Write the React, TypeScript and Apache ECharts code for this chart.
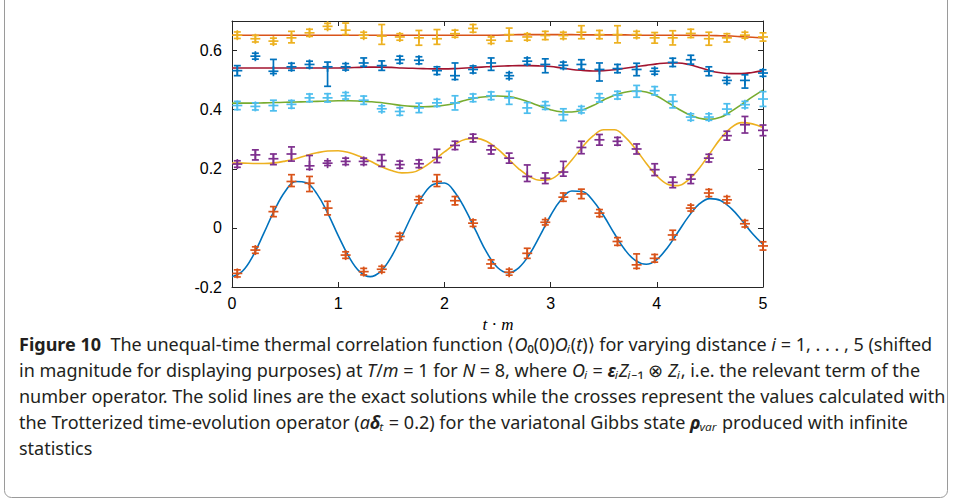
import React, { useEffect, useRef } from "react";
import * as echarts from "echarts";

// time grid of the crosses (t·m)
const T_PTS = [0.05, 0.22, 0.39, 0.56, 0.73, 0.9, 1.07, 1.24, 1.41, 1.58, 1.76, 1.93, 2.1, 2.27, 2.44, 2.61, 2.78, 2.95, 3.12, 3.29, 3.46, 3.63, 3.81, 3.98, 4.15, 4.32, 4.49, 4.66, 4.83, 5.0];
// time grid of the exact curves
const T_CURVE = [0, 0.1, 0.2, 0.3, 0.4, 0.5, 0.6, 0.7, 0.8, 0.9, 1.0, 1.1, 1.2, 1.3, 1.4, 1.5, 1.6, 1.7, 1.8, 1.9, 2.0, 2.1, 2.2, 2.3, 2.4, 2.5, 2.6, 2.7, 2.8, 2.9, 3.0, 3.1, 3.2, 3.3, 3.4, 3.5, 3.6, 3.7, 3.8, 3.9, 4.0, 4.1, 4.2, 4.3, 4.4, 4.5, 4.6, 4.7, 4.8, 4.9, 5.0];

// exact solutions
const CURVE_I1 = [-0.165, -0.146, -0.093, -0.018, 0.06, 0.123, 0.157, 0.153, 0.115, 0.051, -0.026, -0.097, -0.147, -0.165, -0.147, -0.098, -0.028, 0.047, 0.111, 0.148, 0.152, 0.12, 0.06, -0.013, -0.084, -0.134, -0.152, -0.135, -0.09, -0.026, 0.042, 0.096, 0.125, 0.123, 0.092, 0.041, -0.019, -0.074, -0.111, -0.123, -0.107, -0.067, -0.014, 0.039, 0.081, 0.099, 0.093, 0.066, 0.026, -0.019, -0.056];
const CURVE_I2 = [0.219, 0.219, 0.218, 0.218, 0.22, 0.226, 0.234, 0.245, 0.254, 0.26, 0.261, 0.255, 0.242, 0.226, 0.208, 0.194, 0.186, 0.188, 0.204, 0.229, 0.257, 0.283, 0.3, 0.303, 0.292, 0.267, 0.234, 0.2, 0.174, 0.161, 0.165, 0.19, 0.23, 0.274, 0.311, 0.332, 0.332, 0.308, 0.267, 0.219, 0.176, 0.148, 0.143, 0.163, 0.202, 0.252, 0.302, 0.339, 0.356, 0.352, 0.34];
const CURVE_I3 = [0.422, 0.422, 0.422, 0.423, 0.424, 0.425, 0.426, 0.427, 0.428, 0.429, 0.43, 0.43, 0.429, 0.427, 0.424, 0.419, 0.414, 0.411, 0.41, 0.411, 0.415, 0.422, 0.432, 0.44, 0.444, 0.446, 0.444, 0.437, 0.425, 0.412, 0.4, 0.393, 0.392, 0.399, 0.414, 0.433, 0.449, 0.459, 0.463, 0.46, 0.446, 0.425, 0.403, 0.384, 0.371, 0.367, 0.374, 0.394, 0.418, 0.443, 0.466];
const CURVE_I4 = [0.541, 0.541, 0.541, 0.541, 0.541, 0.541, 0.541, 0.541, 0.541, 0.541, 0.541, 0.542, 0.543, 0.544, 0.544, 0.543, 0.541, 0.54, 0.539, 0.538, 0.538, 0.539, 0.541, 0.543, 0.545, 0.547, 0.548, 0.549, 0.549, 0.548, 0.546, 0.541, 0.536, 0.533, 0.531, 0.532, 0.535, 0.54, 0.545, 0.55, 0.555, 0.558, 0.558, 0.553, 0.543, 0.532, 0.525, 0.522, 0.522, 0.526, 0.532];
const CURVE_I5 = [0.652, 0.652, 0.652, 0.652, 0.652, 0.652, 0.652, 0.652, 0.652, 0.652, 0.652, 0.652, 0.652, 0.652, 0.652, 0.652, 0.652, 0.652, 0.652, 0.652, 0.652, 0.652, 0.652, 0.652, 0.652, 0.652, 0.653, 0.654, 0.654, 0.654, 0.654, 0.654, 0.654, 0.653, 0.653, 0.653, 0.653, 0.653, 0.652, 0.652, 0.652, 0.652, 0.652, 0.652, 0.651, 0.651, 0.65, 0.649, 0.647, 0.645, 0.643];

// Trotterized values (crosses) with upper / lower error
const PTS_I1 = [-0.154, -0.075, 0.055, 0.157, 0.151, 0.067, -0.092, -0.148, -0.14, -0.029, 0.095, 0.157, 0.092, 0.016, -0.122, -0.15, -0.086, 0.019, 0.104, 0.115, 0.05, -0.046, -0.125, -0.103, -0.024, 0.067, 0.118, 0.095, 0.014, -0.061];
const UP_I1 = [0.012, 0.011, 0.017, 0.023, 0.023, 0.023, 0.011, 0.011, 0.01, 0.011, 0.011, 0.023, 0.014, 0.011, 0.014, 0.01, 0.017, 0.009, 0.014, 0.016, 0.012, 0.013, 0.037, 0.013, 0.016, 0.01, 0.012, 0.011, 0.011, 0.014];
const DN_I1 = [0.012, 0.011, 0.017, 0.017, 0.028, 0.023, 0.011, 0.011, 0.01, 0.011, 0.011, 0.017, 0.014, 0.011, 0.014, 0.01, 0.017, 0.009, 0.014, 0.016, 0.012, 0.013, 0.012, 0.013, 0.016, 0.01, 0.012, 0.011, 0.011, 0.014];

const PTS_I2 = [0.216, 0.247, 0.234, 0.25, 0.21, 0.219, 0.225, 0.225, 0.228, 0.214, 0.217, 0.238, 0.279, 0.304, 0.264, 0.236, 0.174, 0.168, 0.189, 0.272, 0.298, 0.293, 0.267, 0.197, 0.154, 0.165, 0.236, 0.312, 0.349, 0.33];
const UP_I2 = [0.011, 0.017, 0.016, 0.024, 0.035, 0.008, 0.011, 0.011, 0.02, 0.012, 0.013, 0.028, 0.014, 0.013, 0.014, 0.017, 0.039, 0.018, 0.036, 0.021, 0.018, 0.013, 0.017, 0.02, 0.018, 0.015, 0.013, 0.015, 0.028, 0.018];
const DN_I2 = [0.011, 0.017, 0.02, 0.024, 0.012, 0.008, 0.011, 0.011, 0.02, 0.012, 0.013, 0.017, 0.014, 0.013, 0.014, 0.017, 0.017, 0.018, 0.014, 0.021, 0.018, 0.013, 0.017, 0.02, 0.018, 0.015, 0.013, 0.015, 0.028, 0.018];

const PTS_I3 = [0.414, 0.411, 0.414, 0.418, 0.44, 0.44, 0.447, 0.432, 0.403, 0.394, 0.406, 0.423, 0.423, 0.44, 0.447, 0.44, 0.406, 0.414, 0.383, 0.4, 0.44, 0.449, 0.462, 0.464, 0.428, 0.375, 0.375, 0.402, 0.417, 0.436];
const UP_I3 = [0.014, 0.012, 0.018, 0.013, 0.013, 0.014, 0.011, 0.014, 0.01, 0.013, 0.016, 0.012, 0.024, 0.013, 0.013, 0.022, 0.018, 0.013, 0.02, 0.011, 0.014, 0.013, 0.02, 0.014, 0.022, 0.011, 0.011, 0.018, 0.011, 0.025];
const DN_I3 = [0.014, 0.012, 0.018, 0.013, 0.013, 0.014, 0.011, 0.014, 0.01, 0.013, 0.016, 0.012, 0.024, 0.013, 0.013, 0.022, 0.018, 0.013, 0.02, 0.011, 0.014, 0.013, 0.02, 0.014, 0.022, 0.011, 0.011, 0.018, 0.011, 0.025];

const PTS_I4 = [0.532, 0.581, 0.53, 0.545, 0.553, 0.545, 0.545, 0.558, 0.549, 0.569, 0.567, 0.532, 0.515, 0.536, 0.558, 0.515, 0.564, 0.553, 0.55, 0.553, 0.536, 0.539, 0.536, 0.53, 0.56, 0.569, 0.53, 0.499, 0.499, 0.524];
const UP_I4 = [0.017, 0.01, 0.04, 0.012, 0.011, 0.016, 0.011, 0.017, 0.016, 0.012, 0.012, 0.013, 0.043, 0.012, 0.017, 0.01, 0.011, 0.019, 0.011, 0.016, 0.022, 0.014, 0.021, 0.01, 0.014, 0.015, 0.015, 0.01, 0.019, 0.011];
const DN_I4 = [0.017, 0.01, 0.008, 0.012, 0.011, 0.066, 0.011, 0.011, 0.016, 0.012, 0.012, 0.013, 0.013, 0.012, 0.025, 0.01, 0.011, 0.028, 0.011, 0.016, 0.039, 0.014, 0.021, 0.01, 0.014, 0.015, 0.015, 0.01, 0.026, 0.011];

const PTS_I5 = [0.652, 0.64, 0.632, 0.643, 0.66, 0.682, 0.669, 0.652, 0.649, 0.646, 0.643, 0.64, 0.657, 0.675, 0.635, 0.654, 0.646, 0.651, 0.651, 0.662, 0.654, 0.654, 0.654, 0.643, 0.643, 0.658, 0.64, 0.643, 0.652, 0.646];
const UP_I5 = [0.011, 0.011, 0.01, 0.022, 0.012, 0.01, 0.024, 0.01, 0.039, 0.011, 0.025, 0.031, 0.012, 0.013, 0.011, 0.022, 0.011, 0.014, 0.011, 0.022, 0.014, 0.03, 0.011, 0.018, 0.024, 0.014, 0.022, 0.014, 0.01, 0.014];
const DN_I5 = [0.011, 0.011, 0.01, 0.017, 0.012, 0.01, 0.015, 0.01, 0.028, 0.011, 0.025, 0.019, 0.012, 0.013, 0.011, 0.022, 0.011, 0.014, 0.011, 0.022, 0.014, 0.028, 0.011, 0.018, 0.024, 0.014, 0.022, 0.014, 0.01, 0.014];

const X_TICKS = [0, 1, 2, 3, 4, 5];
const Y_TICKS = [-0.2, 0, 0.2, 0.4, 0.6];

const CAPTION = [
  "{b|Figure 10}  The unequal-time thermal correlation function ⟨{i|O}₀(0){i|O}{i|ᵢ}({i|t})⟩ for varying distance {i|i} = 1, . . . , 5 (shifted",
  "in magnitude for displaying purposes) at {i|T}/{i|m} = 1 for {i|N} = 8, where {i|O}{i|ᵢ} = {bi|ε}{i|ᵢZᵢ}₋₁ ⊗ {i|Zᵢ}, i.e. the relevant term of the",
  "number operator. The solid lines are the exact solutions while the crosses represent the values calculated with",
  "the Trotterized time-evolution operator ({i|a}{bi|δ}{i|ₜ} = 0.2) for the variatonal Gibbs state {bi|ρ}{i|ᵥₐᵣ} produced with infinite",
  "statistics",
];

const CURVES = [
  { data: CURVE_I1, color: "#0072BD" },
  { data: CURVE_I2, color: "#EDB120" },
  { data: CURVE_I3, color: "#77AC30" },
  { data: CURVE_I4, color: "#A2142F" },
  { data: CURVE_I5, color: "#D95319" },
];
const POINTS = [
  { v: PTS_I1, up: UP_I1, dn: DN_I1, color: "#D95319" },
  { v: PTS_I2, up: UP_I2, dn: DN_I2, color: "#7E2F8E" },
  { v: PTS_I3, up: UP_I3, dn: DN_I3, color: "#4DBEEE" },
  { v: PTS_I4, up: UP_I4, dn: DN_I4, color: "#0072BD" },
  { v: PTS_I5, up: UP_I5, dn: DN_I5, color: "#EDB120" },
];

export default function App() {
  const ref = useRef<HTMLDivElement>(null);
  useEffect(() => {
    document.body.style.margin = "0";
    const chart = echarts.init(ref.current!, null, { renderer: "svg" });
    const axisColor = "#262626";
    const tickFont = { fontFamily: "Liberation Sans", fontSize: 16, color: "#000" };
    const fmtY = (v: number) => {
      const hit = Y_TICKS.find((t) => Math.abs(t - v) < 1e-6);
      return hit === undefined ? "" : String(hit);
    };
    const fmtX = (v: number) => {
      const hit = X_TICKS.find((t) => Math.abs(t - v) < 1e-6);
      return hit === undefined ? "" : String(hit);
    };
    const axisLine = { show: true, onZero: false, lineStyle: { color: axisColor, width: 1 } };
    const axisTick = { show: true, inside: true, length: 5, lineStyle: { color: axisColor } };

    const lineSeries = CURVES.map((c) => ({
      type: "line",
      data: T_CURVE.map((t, i) => [t, c.data[i]]),
      smooth: 0.4,
      showSymbol: false,
      lineStyle: { color: c.color, width: 1.6 },
      z: 2,
    }));

    const pointSeries = POINTS.map((p) => ({
      type: "custom",
      data: T_PTS.map((t, i) => [t, p.v[i], p.up[i], p.dn[i]]),
      encode: { x: 0, y: 1 },
      z: 3,
      renderItem: (params: any, api: any) => {
        const t = api.value(0);
        const v = api.value(1);
        const c = api.coord([t, v]);
        const top = api.coord([t, v + api.value(2)]);
        const bot = api.coord([t, v - api.value(3)]);
        const st = { stroke: p.color, lineWidth: 1.7 };
        const cap = 3.5;
        const arm = 5;
        const seg = (x1: number, y1: number, x2: number, y2: number) => ({
          type: "line",
          shape: { x1, y1, x2, y2 },
          style: st,
        });
        return {
          type: "group",
          children: [
            seg(c[0], top[1], c[0], bot[1]),
            seg(c[0] - cap, top[1], c[0] + cap, top[1]),
            seg(c[0] - cap, bot[1], c[0] + cap, bot[1]),
            seg(c[0] - arm, c[1], c[0] + arm, c[1]),
            seg(c[0], c[1] - arm, c[0], c[1] + arm),
          ],
        };
      },
    }));

    const capFont = "Noto Sans";
    const capSize = 18;
    const capColor = "#231f20";
    const capLH = 20;
    const captionTexts = CAPTION.map((line, k) => ({
      type: "text",
      left: 19,
      top: 334 + k * 26,
      style: {
        text: line,
        fontFamily: capFont,
        fontSize: capSize,
        lineHeight: capLH,
        fill: capColor,
        rich: {
          b: { fontWeight: "bold", fontFamily: capFont, fontSize: capSize, lineHeight: capLH, color: capColor },
          i: { fontStyle: "italic", fontFamily: capFont, fontSize: capSize, lineHeight: capLH, color: capColor },
          bi: { fontStyle: "italic", fontWeight: "bold", fontFamily: capFont, fontSize: capSize, lineHeight: capLH, color: capColor },
        },
      },
    }));

    chart.setOption({
      animation: false,
      backgroundColor: "#fff",
      grid: { left: 232, right: 190, top: 21, bottom: 214, containLabel: false },
      xAxis: [
        {
          type: "value",
          min: 0,
          max: 5,
          interval: 1,
          position: "bottom",
          axisLine,
          axisTick,
          axisLabel: { ...tickFont, margin: 8, formatter: fmtX },
          splitLine: { show: false },
        },
        {
          type: "value",
          min: 0,
          max: 5,
          interval: 1,
          position: "top",
          axisLine,
          axisTick,
          axisLabel: { show: false },
          splitLine: { show: false },
        },
      ],
      yAxis: [
        {
          type: "value",
          min: -0.2,
          max: 0.7,
          interval: 0.2,
          position: "left",
          axisLine,
          axisTick,
          axisLabel: { ...tickFont, margin: 10, formatter: fmtY, showMaxLabel: false },
          splitLine: { show: false },
        },
        {
          type: "value",
          min: -0.2,
          max: 0.7,
          interval: 0.2,
          position: "right",
          axisLine,
          axisTick,
          axisLabel: { show: false },
          splitLine: { show: false },
        },
      ],
      graphic: [
        {
          type: "rect",
          shape: { x: 4.5, y: -20, width: 943, height: 517.5, r: 7 },
          style: { fill: "none", stroke: "#9a9a9a", lineWidth: 1 },
          silent: true,
        },
        {
          type: "text",
          x: 498,
          y: 324,
          style: {
            text: "{i|t} · {i|m}",
            align: "center",
            verticalAlign: "middle",
            fontFamily: "Liberation Serif",
            fontSize: 17,
            lineHeight: 16,
            fill: "#000",
            rich: {
              i: { fontStyle: "italic", fontFamily: "Liberation Serif", fontSize: 17, lineHeight: 16, color: "#000" },
            },
          },
        },
        ...captionTexts,
      ],
      series: [...pointSeries, ...lineSeries],
    });
    return () => chart.dispose();
  }, []);
  return <div ref={ref} style={{ width: 953, height: 501 }} />;
}
